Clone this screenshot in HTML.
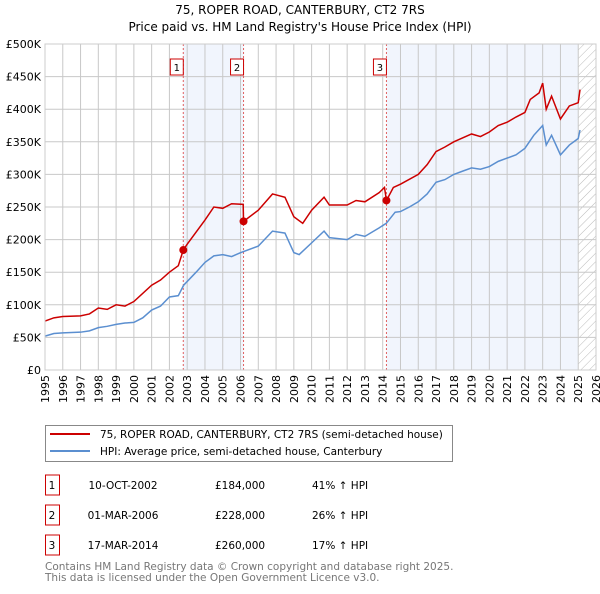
<!DOCTYPE html>
<html><head><meta charset="utf-8"><style>
body{margin:0;background:#fff;font-family:"DejaVu Sans","Liberation Sans",sans-serif;}
svg text{font-family:"DejaVu Sans","Liberation Sans",sans-serif;}
</style></head><body>
<svg id="c" width="600" height="590" xmlns="http://www.w3.org/2000/svg">
<defs><pattern id="hatch" width="6" height="6" patternUnits="userSpaceOnUse" patternTransform="rotate(45)"><line x1="0" y1="0" x2="0" y2="6" stroke="#bbb" stroke-width="1"/></pattern></defs>
<text x="300" y="14" text-anchor="middle" font-size="12">75, ROPER ROAD, CANTERBURY, CT2 7RS</text>
<text x="300" y="31" text-anchor="middle" font-size="12">Price paid vs. HM Land Registry's House Price Index (HPI)</text>
<g id="plot"></g>
<g>
<rect x="45.5" y="425.5" width="407" height="36" fill="#fff" stroke="#888"/>
<line x1="50" y1="434" x2="90" y2="434" stroke="#cc0000" stroke-width="2"/>
<text x="100" y="438" font-size="10.5">75, ROPER ROAD, CANTERBURY, CT2 7RS (semi-detached house)</text>
<line x1="50" y1="451" x2="90" y2="451" stroke="#5b8fd0" stroke-width="2"/>
<text x="100" y="455" font-size="10.5">HPI: Average price, semi-detached house, Canterbury</text>
</g>
<g id="table" font-size="10.5"></g>
<text x="45" y="570" font-size="10.5" fill="#777">Contains HM Land Registry data © Crown copyright and database right 2025.</text>
<text x="45" y="581" font-size="10.5" fill="#777">This data is licensed under the Open Government Licence v3.0.</text>
</svg>
<script>
const hpiYears=[1995,1995.5,1996,1997,1997.5,1998,1998.5,1999,1999.5,2000,2000.5,2001,2001.5,2002,2002.5,2002.8,2003.5,2004,2004.5,2005,2005.5,2006,2007,2007.8,2008.5,2009,2009.3,2010,2010.7,2011,2012,2012.5,2013,2013.8,2014.2,2014.7,2015,2015.5,2016,2016.5,2017,2017.5,2018,2018.5,2019,2019.5,2020,2020.5,2021,2021.5,2022,2022.5,2023,2023.2,2023.5,2024,2024.5,2025,2025.1];
const hpiValues=[52,56,57,58,60,65,67,70,72,73,80,92,98,112,114,130,150,165,175,177,174,180,190,213,210,180,177,195,213,203,200,208,205,218,225,242,243,250,258,270,288,292,300,305,310,308,312,320,325,330,340,360,375,345,360,330,345,355,368];
const redYears=[1995,1995.5,1996,1997,1997.5,1998,1998.5,1999,1999.5,2000,2001,2001.5,2002,2002.5,2002.78,2003,2004,2004.5,2005,2005.5,2006.15,2006.17,2007,2007.8,2008.5,2009,2009.5,2010,2010.7,2011,2012,2012.5,2013,2013.8,2014.1,2014.21,2014.6,2015,2016,2016.5,2017,2017.5,2018,2019,2019.5,2020,2020.5,2021,2021.5,2022,2022.3,2022.8,2023,2023.2,2023.5,2024,2024.5,2025,2025.1];
const redValues=[75,80,82,83,86,95,93,100,98,105,130,138,150,160,184,193,230,250,248,255,254,228,245,270,265,235,225,245,265,253,253,260,258,272,280,260,280,285,300,315,335,342,350,362,358,365,375,380,388,395,415,425,440,400,420,385,405,410,430];
const yTicks=[0,50,100,150,200,250,300,350,400,450,500];
const yTickLabels=["£0","£50K","£100K","£150K","£200K","£250K","£300K","£350K","£400K","£450K","£500K"];
const xTicks=[1995,1996,1997,1998,1999,2000,2001,2002,2003,2004,2005,2006,2007,2008,2009,2010,2011,2012,2013,2014,2015,2016,2017,2018,2019,2020,2021,2022,2023,2024,2025,2026];
const saleLabels=["1","2","3"];
const saleYears=[2002.78,2006.17,2014.21];
const saleValues=[184,228,260];
const saleDates=["10-OCT-2002","01-MAR-2006","17-MAR-2014"];
const salePrices=["£184,000","£228,000","£260,000"];
const saleHpi=["41% ↑ HPI","26% ↑ HPI","17% ↑ HPI"];
const X0=45,X1=596,Y0=370,Y1=44;
const xs=y=>X0+(y-1995)*(X1-X0)/31;
const ys=v=>Y0-v*(Y0-Y1)/500;
const NS="http://www.w3.org/2000/svg";
const plot=document.getElementById('plot');
function mk(t,a,p){const e=document.createElementNS(NS,t);for(const k in a)e.setAttribute(k,a[k]);(p||plot).appendChild(e);return e;}
let bg=mk('rect',{x:X0,y:Y1,width:X1-X0,height:Y0-Y1,fill:'#fff'});


let s1=mk('rect',{x:xs(saleYears[0]),y:Y1,width:xs(saleYears[1])-xs(saleYears[0]),height:Y0-Y1,fill:'#eef3fc',opacity:0.8});


let s2=mk('rect',{x:xs(saleYears[2]),y:Y1,width:xs(2025)-xs(saleYears[2]),height:Y0-Y1,fill:'#eef3fc',opacity:0.8});


let h=mk('rect',{x:xs(2025),y:Y1,width:X1-xs(2025),height:Y0-Y1,fill:'url(#hatch)'});


xTicks.forEach(t=>{let l=mk('line',{x1:xs(t),x2:xs(t),y1:Y1,y2:Y0,stroke:'#c8c8c8'});


let tx=mk('text',{x:0,y:0,'font-size':'11',transform:`translate(${xs(t)+4},${Y0+5}) rotate(-90)`,'text-anchor':'end'});tx.textContent=t;

});
yTicks.forEach((t,i)=>{let l=mk('line',{x1:X0,x2:X1,y1:ys(t),y2:ys(t),stroke:'#c8c8c8'});


let tx=mk('text',{x:X0-4,y:ys(t)+4,'font-size':'11','text-anchor':'end'});tx.textContent=yTickLabels[i];

});
saleYears.forEach((y,i)=>{let l=mk('line',{x1:xs(y),x2:xs(y),y1:Y1,y2:Y0,stroke:'#e06060','stroke-dasharray':'2,2'});


let r=mk('rect',{x:xs(y)-13,y:59,width:13,height:16,fill:'#fff',stroke:'#cc0000'});


let tx=mk('text',{x:xs(y)-6.5,y:71,'font-size':'10','text-anchor':'middle'});tx.textContent=saleLabels[i];

});
let hp=mk('polyline',{points:hpiYears.map((y,i)=>xs(y)+','+ys(hpiValues[i])).join(' '),fill:'none',stroke:'#5b8fd0','stroke-width':1.5});


let rp=mk('polyline',{points:redYears.map((y,i)=>xs(y)+','+ys(redValues[i])).join(' '),fill:'none',stroke:'#cc0000','stroke-width':1.5});


saleYears.forEach((y,i)=>{let c=mk('circle',{cx:xs(y),cy:ys(saleValues[i]),r:4,fill:'#cc0000'});

});
let ax=mk('rect',{x:X0,y:Y1,width:X1-X0,height:Y0-Y1,fill:'none',stroke:'#ccc'});


const tb=document.getElementById('table');
saleLabels.forEach((s,i)=>{const y=483+i*30;
let r=mk('rect',{x:45.5,y:y-8,width:14,height:20,fill:'#fff',stroke:'#cc0000'},tb);


const cells=[[52,s,'middle'],[123,saleDates[i],'middle'],[215,salePrices[i],'start'],[312,saleHpi[i],'start']];
cells.forEach(c=>{let t=mk('text',{x:c[0],y:y+6,'text-anchor':c[2]},tb);t.textContent=c[1];

});});
</script>
</body></html>
